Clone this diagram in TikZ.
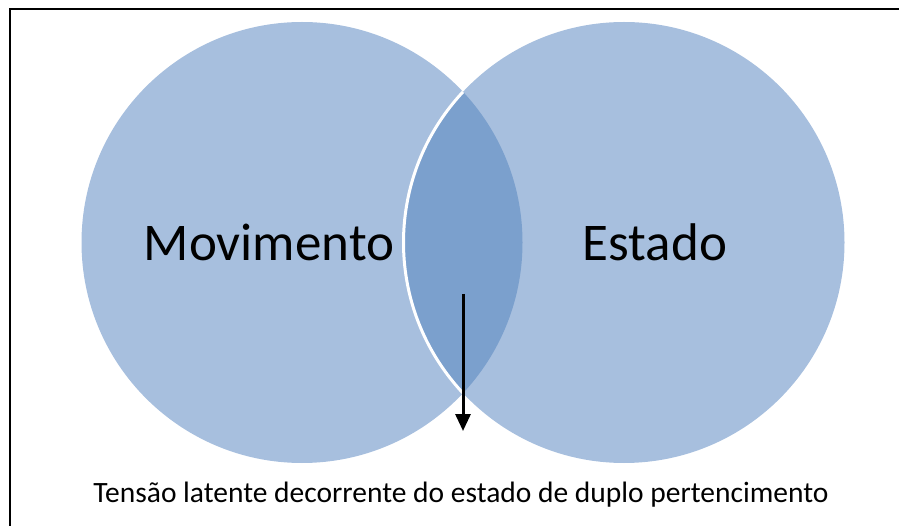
\documentclass[tikz,border=0pt]{standalone}
\usepackage{fontspec}
\setmainfont{Carlito}
\usetikzlibrary{arrows.meta,positioning}
\definecolor{setblue}{RGB}{167,191,222}
\definecolor{lensblue}{RGB}{123,160,205}
\tikzset{
	set/.style={
		circle,
		fill=setblue,
		minimum size=441pt,
		inner sep=0pt
	},
	setlabel/.style={
		font=\fontsize{53}{60}\selectfont
	},
	caption/.style={
		font=\fontsize{29.5}{34}\selectfont
	},
	pointer/.style={
		-{Triangle[width=15pt,length=17pt]},
		line width=3pt
	}
}
\begin{document}
\begin{tikzpicture}[x=1pt,y=-1pt]
		\useasboundingbox (0,0) rectangle (899,526);
		\draw[line width=2.2pt] (10,9) rectangle (920,560);
		\node [set] (mov) at (302,242.5) {};
		\node [set] (est) at (624,242.5) {};
		% overlap of the two sets
		\begin{scope}
		\clip (mov.center) circle (220.5);
		\fill[lensblue] (est.center) circle (220.5);
		\draw[white,line width=3pt] (est.center) circle (220.5);
		\end{scope}
		\node [setlabel] (movlabel) at (269,242) {Movimento};
		\node [setlabel] (estlabel) at (655,242) {Estado};
		\node [caption] (tension) at (461,495) {Tensão latente decorrente do estado de duplo pertencimento};
		\coordinate (arrowtop) at (463,294);
		\coordinate (arrowtip) at (463,431);
		\draw[pointer] (arrowtop) -- (arrowtip);
\end{tikzpicture}
\end{document}
